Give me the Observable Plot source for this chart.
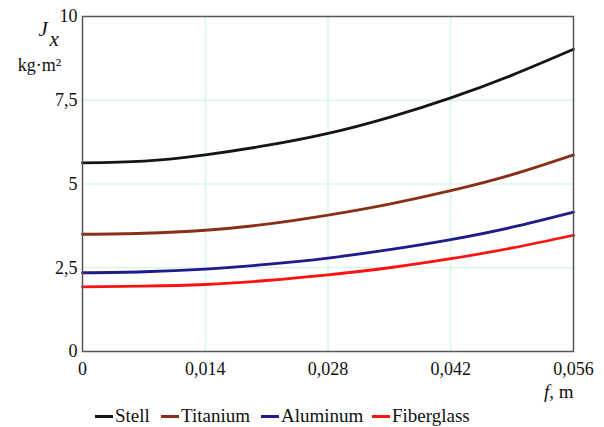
<!DOCTYPE html>
<html>
<head>
<meta charset="utf-8">
<script src="https://cdn.jsdelivr.net/npm/d3@7"></script>
<script src="https://cdn.jsdelivr.net/npm/@observablehq/plot@0.6"></script>
</head>
<body style="margin:0;padding:0;background:#fff;font-family:'Times New Roman','Liberation Serif',serif">
<div id="chart" style="width:604px;height:427px;position:relative;font-family:'Times New Roman','Liberation Serif',serif"></div>
<script>
const fValues = [0, 0.007, 0.014, 0.021, 0.028, 0.035, 0.042, 0.049, 0.056];
const stell      = [5.63, 5.68, 5.87, 6.15, 6.51, 6.99, 7.57, 8.25, 9.02];
const titanium   = [3.50, 3.53, 3.62, 3.80, 4.07, 4.40, 4.80, 5.28, 5.87];
const aluminum   = [2.35, 2.38, 2.46, 2.60, 2.79, 3.04, 3.34, 3.71, 4.16];
const fiberglass = [1.93, 1.95, 2.00, 2.12, 2.29, 2.50, 2.77, 3.09, 3.47];
const seriesNames = ["Stell", "Titanium", "Aluminum", "Fiberglass"];
const seriesColors = ["#151515", "#8a2f17", "#201a8a", "#ff1111"];
const xTicks = [0, 0.014, 0.028, 0.042, 0.056];
const yTicks = [0, 2.5, 5, 7.5, 10];

const allSeries = [stell, titanium, aluminum, fiberglass];
const rows = [];
allSeries.forEach((vals, i) => vals.forEach((v, j) => rows.push({f: fValues[j], J: v, s: seriesNames[i]})));

const fmt = d => String(d).replace(".", ",");
const serif = "Times New Roman, Liberation Serif, serif";

const plot = Plot.plot({
  width: 604,
  height: 405,
  marginTop: 16,
  marginBottom: 54,
  marginLeft: 82,
  marginRight: 31,
  style: {fontFamily: serif, fontSize: "18px", color: "#111", background: "#fff"},
  x: {domain: [0, 0.056], label: null},
  y: {domain: [0, 10], label: null},
  color: {domain: seriesNames, range: seriesColors},
  marks: [
    Plot.gridX(xTicks, {stroke: "#c9f2d9", strokeOpacity: 1, strokeWidth: 1}),
    Plot.gridY(yTicks, {stroke: "#c9f2d9", strokeOpacity: 1, strokeWidth: 1}),
    Plot.axisX({ticks: xTicks, tickFormat: fmt, tickSize: 0, tickPadding: 11, fontSize: 18, fontFamily: serif, label: null}),
    Plot.axisY({ticks: yTicks, tickFormat: fmt, tickSize: 0, tickPadding: 5, fontSize: 18, fontFamily: serif, label: null}),
    Plot.line(rows, {x: "f", y: "J", z: "s", stroke: "s", strokeWidth: 2.8, curve: "natural"}),
    Plot.frame({stroke: "#555", strokeWidth: 1.5}),
    Plot.text(["J"], {frameAnchor: "top-left", dx: -44, dy: 5, fontSize: 21, fontFamily: serif, fontStyle: "italic", textAnchor: "start", fill: "#111"}),
    Plot.text(["x"], {frameAnchor: "top-left", dx: -33, dy: 15, fontSize: 21, fontFamily: serif, fontStyle: "italic", textAnchor: "start", fill: "#111"}),
    Plot.text(["kg·m²"], {frameAnchor: "top-left", dx: -43, dy: 42, fontSize: 18, fontFamily: serif, textAnchor: "middle", fill: "#111"}),
    Plot.text(["f, m"], {frameAnchor: "bottom-right", dy: 46, fontSize: 19, fontFamily: serif, textAnchor: "end", fill: "#111"})
  ]
});
document.getElementById("chart").appendChild(plot);

plot.querySelectorAll("text").forEach(t => {
  if (t.textContent === "f, m") {
    t.textContent = "";
    const a = document.createElementNS("http://www.w3.org/2000/svg", "tspan");
    a.setAttribute("font-style", "italic"); a.textContent = "f";
    const b = document.createElementNS("http://www.w3.org/2000/svg", "tspan");
    b.textContent = ", m";
    t.appendChild(a); t.appendChild(b);
  }
});

const legend = document.createElement("div");
legend.setAttribute("style", "position:absolute;left:0;top:405px;width:604px;height:22px");
const lefts = [95, 161, 261, 372];
seriesNames.forEach((n, i) => {
  const it = document.createElement("div");
  it.setAttribute("style", "position:absolute;top:0;left:" + lefts[i] + "px;font-family:'Times New Roman','Liberation Serif',serif;font-size:19px;line-height:22px;color:#111;white-space:nowrap");
  const sw = document.createElement("span");
  sw.setAttribute("style", "display:inline-block;width:18px;height:3px;vertical-align:middle;margin-right:2px;position:relative;top:-1px;background:" + seriesColors[i]);
  it.appendChild(sw);
  it.appendChild(document.createTextNode(n));
  legend.appendChild(it);
});
document.getElementById("chart").appendChild(legend);
</script>
</body>
</html>
